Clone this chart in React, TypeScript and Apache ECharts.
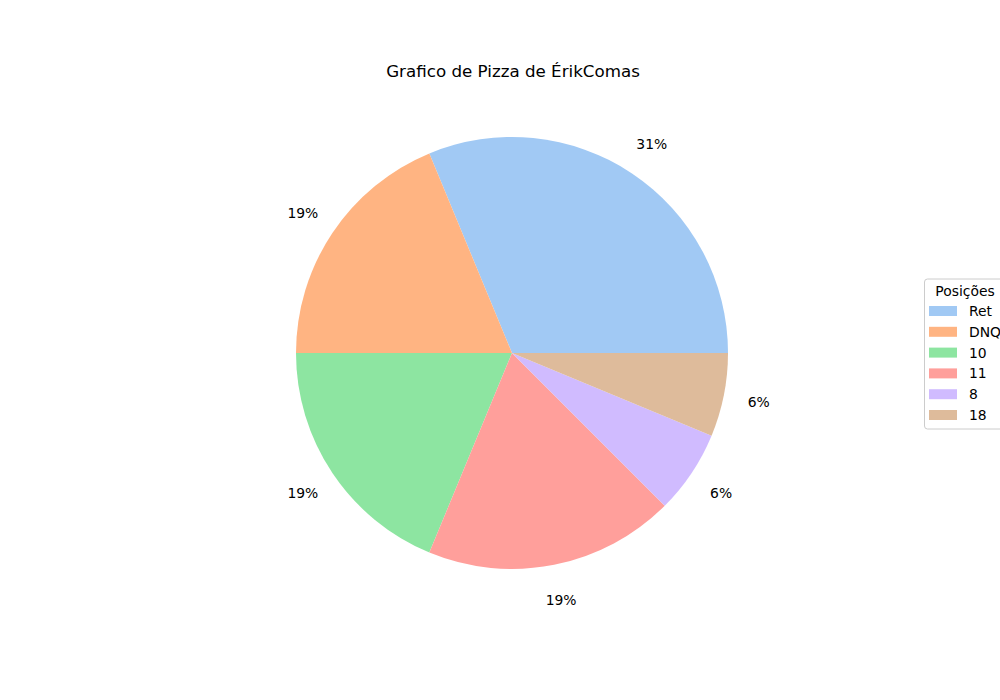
import React, { useEffect, useRef } from "react";
import * as echarts from "echarts";

const categories = ["Ret", "DNQ", "10", "11", "8", "18"];
const counts = [5, 3, 3, 3, 1, 1];
const colors = ["#a1c9f4", "#ffb482", "#8de5a1", "#ff9f9b", "#d0bbff", "#debb9b"];
const titleText = "Grafico de Pizza de ÉrikComas";
const legendTitle = "Posições";

const FONT = "DejaVu Sans";

export default function App() {
  const ref = useRef<HTMLDivElement>(null);
  useEffect(() => {
    const chart = echarts.init(ref.current!, null, { renderer: "svg" });
    const data = categories.map((name, i) => ({
      name,
      value: counts[i],
      itemStyle: { color: colors[i] },
    }));
    const center = [512, 353];
    chart.setOption({
      animation: false,
      backgroundColor: "#ffffff",
      title: {
        text: titleText,
        left: 508,
        top: 57,
        textAlign: "center",
        textStyle: { fontFamily: FONT, fontSize: 16.7, fontWeight: "normal", color: "#000" },
      },
      legend: {
        orient: "vertical",
        left: 929,
        top: 304,
        padding: 0,
        itemWidth: 28,
        itemHeight: 10,
        itemGap: 6.8,
        icon: "rect",
        selectedMode: false,
        data: categories.map((name, i) => ({ name, itemStyle: { color: colors[i] } })),
        textStyle: {
          fontFamily: FONT,
          fontSize: 13.9,
          color: "#000",
          padding: [0, 0, 0, 7],
        },
      },
      graphic: [
        {
          type: "rect",
          z: 0,
          shape: { x: 924.5, y: 279, width: 100, height: 150, r: 3 },
          style: { fill: "rgba(255,255,255,0.8)", stroke: "#cccccc", lineWidth: 1 },
        },
        {
          type: "text",
          z: 1,
          x: 965,
          y: 291,
          style: {
            text: legendTitle,
            fontFamily: FONT,
            fontSize: 13.9,
            fill: "#000",
            align: "center",
            verticalAlign: "middle",
          },
        },
      ],
      series: [
        {
          type: "pie",
          center,
          radius: [0, 216],
          startAngle: 0,
          clockwise: false,
          silent: true,
          label: { show: false },
          labelLine: { show: false },
          data,
        },
        {
          type: "pie",
          center,
          radius: [230, 267],
          startAngle: 0,
          clockwise: false,
          silent: true,
          itemStyle: { color: "rgba(0,0,0,0)" },
          labelLine: { show: false },
          label: {
            show: true,
            position: "inside",
            fontFamily: FONT,
            fontSize: 13.9,
            color: "#000",
            formatter: (p: any) => Math.round(p.percent) + "%",
          },
          data: categories.map((name, i) => ({
            name,
            value: counts[i],
            itemStyle: { color: "rgba(0,0,0,0)" },
          })),
        },
      ],
    });
    return () => chart.dispose();
  }, []);
  return (
    <div
      ref={ref}
      style={{ position: "fixed", left: 0, top: 0, width: 1000, height: 700 }}
    />
  );
}
